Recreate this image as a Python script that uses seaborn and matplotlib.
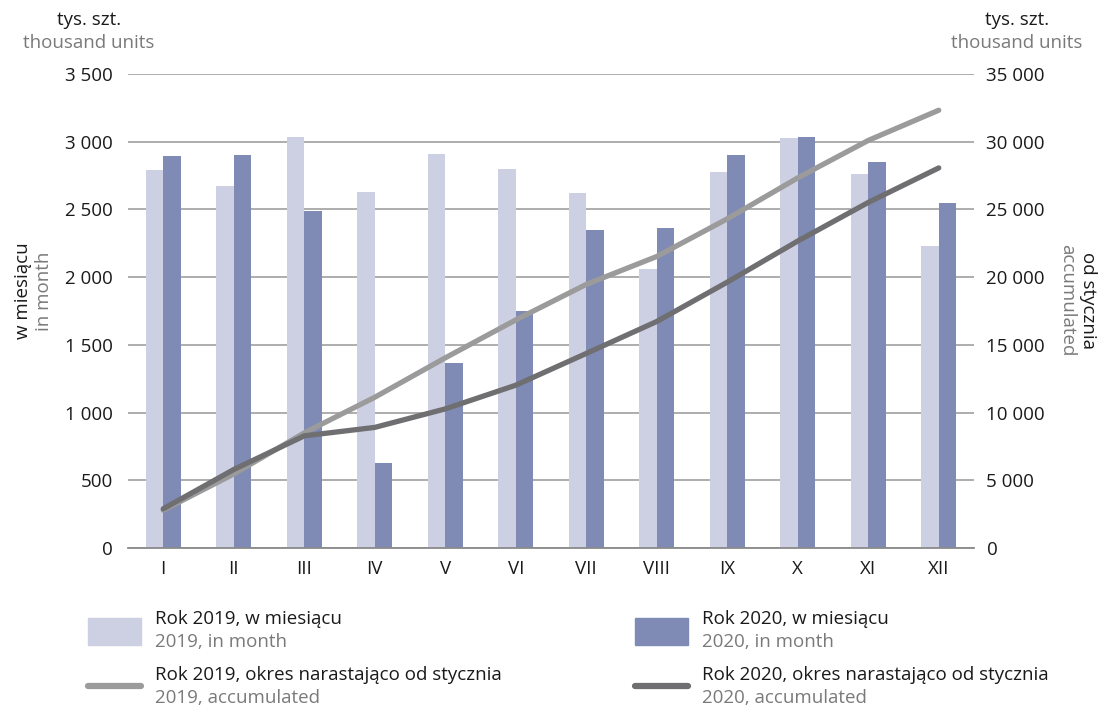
import numpy as np
import pandas as pd
import seaborn as sns
import matplotlib.pyplot as plt
from matplotlib.patches import Rectangle
from matplotlib.lines import Line2D

sns.set_theme(style="white")
plt.rcParams['font.family'] = ['Open Sans', 'DejaVu Sans']

months = ["I", "II", "III", "IV", "V", "VI", "VII", "VIII", "IX", "X", "XI", "XII"]
month_2019 = [2790, 2675, 3035, 2630, 2910, 2800, 2625, 2060, 2780, 3025, 2765, 2230]
month_2020 = [2895, 2900, 2485, 625, 1365, 1750, 2345, 2360, 2905, 3035, 2850, 2550]
acc_2019 = [2790, 5465, 8500, 11130, 14040, 16840, 19465, 21525, 24305, 27330, 30095, 32325]
acc_2020 = [2895, 5795, 8280, 8905, 10270, 12020, 14365, 16725, 19630, 22665, 25515, 28065]

c2019 = "#cdd0e3"
c2020 = "#7f8bb4"
l2019 = "#9b9b9c"
l2020 = "#6f6f72"
dark = "#1a1a1a"
grey = "#7a7a7a"
fs = 13.5

df = pd.DataFrame({
    "month": months * 2,
    "value": month_2019 + month_2020,
    "year": ["2019"] * 12 + ["2020"] * 12,
})

fig = plt.figure(figsize=(11.1, 7.09), dpi=100)
ax = fig.add_axes([128 / 1110, 1 - 548 / 709, 846 / 1110, 474 / 709])

sns.barplot(data=df, x="month", y="value", hue="year", palette=[c2019, c2020],
            width=0.49, gap=0, legend=False, ax=ax, saturation=1, linewidth=0)
ax.set_axisbelow(True)
ax.set_ylim(0, 3500)
ax.set_xlim(-0.5, 11.5)
ax.set_yticks(range(0, 3501, 500))
ax.set_yticklabels([f"{v:,}".replace(",", " ") for v in range(0, 3501, 500)])
ax.yaxis.grid(True, color="#a0a0a0", linewidth=1.2)
ax.set_xlabel("")
ax.set_ylabel("")
for s in ["top", "left", "right"]:
    ax.spines[s].set_visible(False)
ax.spines["bottom"].set_color("#8a8a8a")
ax.spines["bottom"].set_linewidth(1.3)
ax.tick_params(axis="both", length=0, labelsize=fs, colors=dark)
ax.tick_params(axis="y", pad=11)
ax.tick_params(axis="x", pad=9)

ax2 = ax.twinx()
pos = np.arange(len(months))
sns.lineplot(x=pos, y=acc_2019, ax=ax2, color=l2019, linewidth=3.8, solid_capstyle="round")
sns.lineplot(x=pos, y=acc_2020, ax=ax2, color=l2020, linewidth=3.8, solid_capstyle="round")
ax2.set_ylim(0, 35000)
ax2.set_yticks(range(0, 35001, 5000))
ax2.set_yticklabels([f"{v:,}".replace(",", " ") for v in range(0, 35001, 5000)])
ax2.tick_params(axis="y", length=0, labelsize=fs, colors=dark, pad=9)
ax2.set_ylabel("")
for s in ax2.spines.values():
    s.set_visible(False)
ax2.grid(False)


def fx(x):
    return x / 1110


def fy(y):
    return 1 - y / 709


# unit labels
fig.text(fx(89), fy(20), "tys. szt.", ha="center", va="center", fontsize=fs, color=dark)
fig.text(fx(89), fy(43), "thousand units", ha="center", va="center", fontsize=fs, color=grey)
fig.text(fx(1017), fy(20), "tys. szt.", ha="center", va="center", fontsize=fs, color=dark)
fig.text(fx(1017), fy(43), "thousand units", ha="center", va="center", fontsize=fs, color=grey)

# axis titles
fig.text(fx(23), fy(291), "w miesiącu", rotation=90, ha="center", va="center", fontsize=fs, color=dark)
fig.text(fx(44), fy(291), "in month", rotation=90, ha="center", va="center", fontsize=fs, color=grey)
fig.text(fx(1088), fy(300), "od stycznia", rotation=270, ha="center", va="center", fontsize=fs, color=dark)
fig.text(fx(1067), fy(300), "accumulated", rotation=270, ha="center", va="center", fontsize=fs, color=grey)

# legend
legend_items = [
    ("bar", c2019, 88, "Rok 2019, w miesiącu", "2019, in month", 632),
    ("bar", c2020, 635, "Rok 2020, w miesiącu", "2020, in month", 632),
    ("line", l2019, 88, "Rok 2019, okres narastająco od stycznia", "2019, accumulated", 686),
    ("line", l2020, 635, "Rok 2020, okres narastająco od stycznia", "2020, accumulated", 686),
]
for kind, col, x0, main, sub, yc in legend_items:
    if kind == "bar":
        fig.patches.append(Rectangle((fx(x0), fy(645)), 53 / 1110, 27 / 709,
                                     transform=fig.transFigure, color=col))
    else:
        fig.lines.append(Line2D([fx(x0), fx(x0 + 53)], [fy(yc), fy(yc)], transform=fig.transFigure,
                                color=col, linewidth=4.5, solid_capstyle="round"))
    ty = 619 if kind == "bar" else 675
    fig.text(fx(x0 + 67), fy(ty), main, ha="left", va="center", fontsize=fs, color=dark)
    fig.text(fx(x0 + 67), fy(ty + 23), sub, ha="left", va="center", fontsize=fs, color=grey)

fig.savefig("out.png", dpi=100)
